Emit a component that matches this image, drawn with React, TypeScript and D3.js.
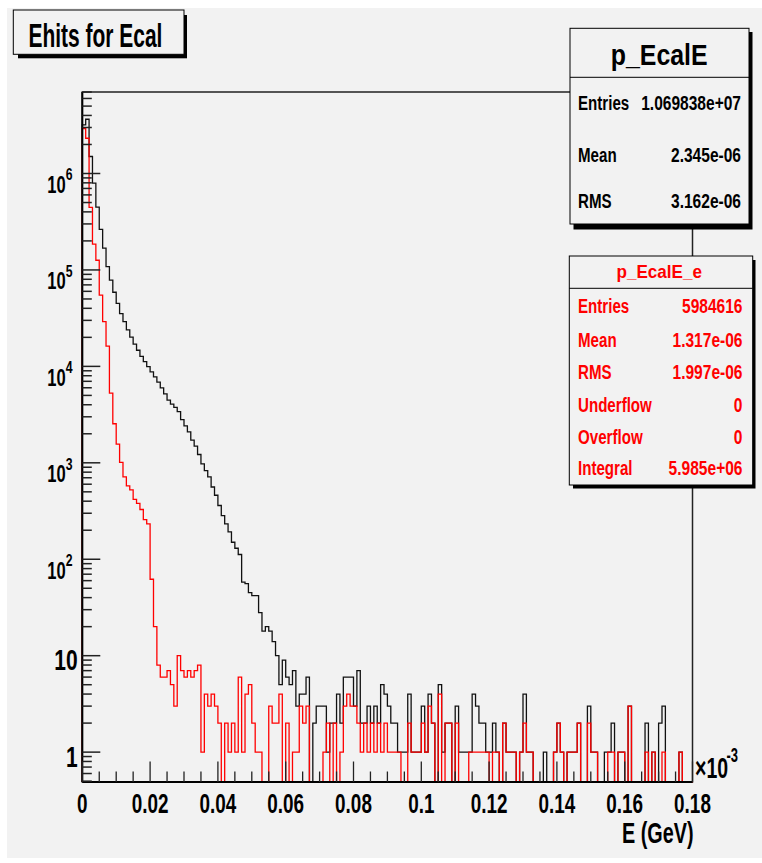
import React from "react";
import * as d3 from "d3";

// ---------------- data ----------------
const BIN_LOW = 0; // in units of 10^-3 GeV
const BIN_WIDTH = 0.001;

const BLACK_COUNTS = [
  3200000, 3650000, 1500000, 794000, 447000, 263000, 168000, 108000, 78500, 58700,
  45100, 35300, 29100, 23900, 20100, 17000, 14700, 12700, 11200, 9950,
  8770, 7800, 6870, 5980, 5180, 4470, 4060, 3760, 3400, 2800,
  2420, 2090, 1720, 1490, 1220, 977, 828, 716, 561, 461,
  361, 283, 233, 192, 150, 130, 112, 58, 56, 45,
  42, 42, 28, 18, 20, 18, 14, 10, 5, 9,
  6, 5, 7, 3, 4, 4, 6, 0, 2, 3,
  3, 3, 1, 2, 2, 4, 2, 6, 6, 6,
  3, 7, 2, 2, 3, 2, 3, 2, 5, 4,
  3, 2, 2, 1, 1, 1, 4, 1, 1, 1,
  3, 1, 4, 2, 0, 5, 1, 2, 2, 0,
  3, 1, 1, 1, 1, 4, 3, 2, 2, 1,
  1, 2, 1, 0, 2, 1, 1, 1, 0, 1,
  4, 1, 1, 0, 0, 0, 1, 0, 0, 1,
  2, 1, 0, 1, 1, 1, 2, 0, 0, 3,
  1, 1, 0, 0, 1, 1, 2, 0, 1, 1,
  0, 3, 0, 0, 0, 0, 2, 0, 1, 0,
  2, 3, 0, 0, 0, 0, 1, 0, 0, 0,
];

const RED_COUNTS = [
  2930000, 2320000, 446000, 185000, 126000, 54800, 29100, 16200, 5270, 2540,
  1560, 1010, 716, 577, 524, 418, 380, 328, 257, 233,
  62, 20, 8, 6, 6, 7, 5, 3, 10, 7,
  6, 7, 6, 7, 8, 1, 4, 3, 4, 3,
  2, 0, 2, 1, 2, 1, 6, 1, 4, 5,
  2, 1, 1, 0, 0, 3, 2, 2, 4, 0,
  2, 0, 1, 1, 3, 2, 3, 0, 0, 0,
  0, 1, 2, 0, 2, 0, 1, 3, 4, 3,
  3, 2, 1, 2, 1, 2, 1, 2, 1, 2,
  1, 1, 1, 1, 0, 0, 2, 1, 1, 1,
  2, 1, 3, 2, 0, 4, 0, 2, 2, 0,
  2, 0, 0, 0, 1, 1, 1, 1, 1, 1,
  0, 1, 1, 0, 2, 1, 1, 1, 0, 1,
  2, 1, 1, 0, 0, 0, 0, 0, 0, 1,
  2, 1, 0, 1, 1, 1, 2, 0, 0, 2,
  1, 1, 0, 0, 0, 1, 1, 0, 1, 1,
  0, 3, 0, 0, 0, 0, 1, 0, 1, 0,
  0, 1, 0, 0, 0, 0, 1, 0, 0, 0,
];

const X_TICK_LABELS = ["0", "0.02", "0.04", "0.06", "0.08", "0.1", "0.12", "0.14", "0.16", "0.18"];
const Y_DECADE_EXPONENTS = [0, 1, 2, 3, 4, 5, 6];

const TITLE = "Ehits for Ecal";
const X_TITLE = "E (GeV)";
const X_EXP_BASE = "\u00d710";
const X_EXP = "-3";

const STATS_ALL_TITLE = "p_EcalE";
const STATS_ALL_LABELS = ["Entries", "Mean", "RMS"];
const STATS_ALL_VALUES = ["1.069838e+07", "2.345e-06", "3.162e-06"];

const STATS_E_TITLE = "p_EcalE_e";
const STATS_E_LABELS = ["Entries", "Mean", "RMS", "Underflow", "Overflow", "Integral"];
const STATS_E_VALUES = ["5984616", "1.317e-06", "1.997e-06", "0", "0", "5.985e+06"];

// ---------------- layout ----------------
const W = 762;
const H = 863;
const FX0 = 82.3;
const FX1 = 692.5;
const FY0 = 92;
const FY1 = 782;
const Y_MIN = 0.49;
const Y_MAX = 7e6;
const X_MAX = 0.18;
const BG = "#f2f2f2";
const FONT = "'Liberation Sans', Arial, Helvetica, sans-serif";

const x = d3.scaleLinear().domain([0, X_MAX]).range([FX0, FX1]);
const y = d3.scaleLog().domain([Y_MIN, Y_MAX]).range([FY1, FY0]);

function stepPath(counts: number[]): string {
  const pts: [number, number][] = [[x(BIN_LOW), FY1]];
  counts.forEach((c, i) => {
    const lo = BIN_LOW + i * BIN_WIDTH;
    const hi = lo + BIN_WIDTH;
    const yy = y(Math.max(c, Y_MIN));
    pts.push([x(lo), yy], [x(hi), yy]);
  });
  pts.push([x(BIN_LOW + counts.length * BIN_WIDTH), FY1]);
  return d3.line()(pts) || "";
}

function T({
  x: tx,
  y: ty,
  size,
  sx,
  anchor = "start",
  fill = "#000",
  children,
}: {
  x: number;
  y: number;
  size: number;
  sx: number;
  anchor?: "start" | "middle" | "end";
  fill?: string;
  children: React.ReactNode;
}) {
  return (
    <text
      transform={`translate(${tx},${ty}) scale(${sx},1)`}
      fontFamily={FONT}
      fontWeight="bold"
      fontSize={size}
      textAnchor={anchor}
      fill={fill}
    >
      {children}
    </text>
  );
}

const S1_BASE = [110, 161.7, 208.3];
const S2_BASE = [313.3, 347.3, 379.3, 411.7, 444, 475];

export default function App() {
  const yTicks = y.ticks().filter((v) => v >= Y_MIN && v <= Y_MAX);
  const xMinor = d3.range(0, X_MAX + 1e-9, 0.005).map((v) => +v.toFixed(4));
  const xMajorVals = X_TICK_LABELS.map((s) => parseFloat(s));

  return (
    <svg
      width={W}
      height={H}
      style={{ position: "absolute", left: 0, top: 0 }}
      xmlns="http://www.w3.org/2000/svg"
    >
      <rect x={0} y={0} width={W} height={H} fill="#ffffff" />
      <rect x={7} y={8} width={W - 7} height={850} fill={BG} />

      {/* frame */}
      <rect x={FX0} y={FY0} width={FX1 - FX0} height={FY1 - FY0} fill={BG} stroke="#222" strokeWidth={1.5} />

      {/* histograms */}
      <path d={stepPath(BLACK_COUNTS)} fill="none" stroke="#111" strokeWidth={1.3} />
      <path d={stepPath(RED_COUNTS)} fill="none" stroke="#ff0000" strokeWidth={1.3} />

      {/* axes */}
      <line x1={FX0} y1={FY0} x2={FX0} y2={FY1} stroke="#000" strokeWidth={2} />
      <line x1={FX0} y1={FY1} x2={FX1} y2={FY1} stroke="#000" strokeWidth={2} />

      {yTicks.map((v, i) => {
        const major = Math.abs(Math.log10(v) - Math.round(Math.log10(v))) < 1e-9;
        return (
          <line
            key={"yt" + i}
            x1={FX0}
            x2={FX0 + (major ? 18 : 9.5)}
            y1={y(v)}
            y2={y(v)}
            stroke="#222"
            strokeWidth={1.5}
          />
        );
      })}

      {xMinor.map((v, i) => {
        const major = Math.abs(v / 0.02 - Math.round(v / 0.02)) < 1e-6;
        return (
          <line
            key={"xt" + i}
            x1={x(v)}
            x2={x(v)}
            y1={FY1}
            y2={FY1 - (major ? 20.5 : 10.5)}
            stroke="#222"
            strokeWidth={1.3}
          />
        );
      })}

      {/* x labels */}
      {X_TICK_LABELS.map((s, i) => (
        <T key={"xl" + i} x={x(xMajorVals[i])} y={812.5} size={27} sx={0.7} anchor="middle">
          {s}
        </T>
      ))}
      <T x={695} y={778.3} size={30} sx={0.65}>
        {X_EXP_BASE}
      </T>
      <T x={726.5} y={762} size={20} sx={0.65}>
        {X_EXP}
      </T>
      <T x={693.5} y={843.3} size={30} sx={0.66} anchor="end">
        {X_TITLE}
      </T>

      {/* y labels */}
      {Y_DECADE_EXPONENTS.map((e) => {
        const v = Math.pow(10, e);
        const ty = y(v);
        if (e === 0 || e === 1) {
          return (
            <T key={"yl" + e} x={77.7} y={ty + 14.6} size={30} sx={0.7} anchor="end">
              {String(v)}
            </T>
          );
        }
        return (
          <g key={"yl" + e}>
            <T x={65.7} y={ty + 19.4} size={23} sx={0.72} anchor="end">
              10
            </T>
            <T x={65.7} y={ty + 6.7} size={17} sx={0.72}>
              {String(e)}
            </T>
          </g>
        );
      })}

      {/* stats box 1 */}
      <rect x={573.5} y={32} width={179} height={197.5} fill="#000" />
      <rect x={570} y={28.3} width={179} height={195.7} fill={BG} stroke="#000" strokeWidth={1} />
      <line x1={570} x2={749} y1={77.3} y2={77.3} stroke="#000" strokeWidth={1} />
      <T x={659.2} y={65} size={30} sx={0.83} anchor="middle">
        {STATS_ALL_TITLE}
      </T>
      {STATS_ALL_LABELS.map((s, i) => (
        <g key={"s1" + i}>
          <T x={578} y={S1_BASE[i]} size={21} sx={0.72}>
            {s}
          </T>
          <T x={741} y={S1_BASE[i]} size={21} sx={0.74} anchor="end">
            {STATS_ALL_VALUES[i]}
          </T>
        </g>
      ))}

      {/* stats box 2 */}
      <rect x={573} y={260} width={182.5} height={228.5} fill="#000" />
      <rect x={569.3} y={256} width={183.4} height={229} fill={BG} stroke="#000" strokeWidth={1} />
      <line x1={569.3} x2={752.7} y1={288.3} y2={288.3} stroke="#000" strokeWidth={1} />
      <T x={659.2} y={278.3} size={18} sx={0.95} anchor="middle" fill="#ff0000">
        {STATS_E_TITLE}
      </T>
      {STATS_E_LABELS.map((s, i) => (
        <g key={"s2" + i}>
          <T x={578} y={S2_BASE[i]} size={21} sx={0.72} fill="#ff0000">
            {s}
          </T>
          <T x={742.5} y={S2_BASE[i]} size={21} sx={0.74} anchor="end" fill="#ff0000">
            {STATS_E_VALUES[i]}
          </T>
        </g>
      ))}

      {/* title box */}
      <rect x={18} y={15} width={169} height={43.3} fill="#000" />
      <rect x={13.3} y={10} width={170.7} height={44.3} fill={BG} stroke="#000" strokeWidth={1} />
      <T x={28.5} y={46.7} size={32.5} sx={0.645}>
        {TITLE}
      </T>
    </svg>
  );
}
